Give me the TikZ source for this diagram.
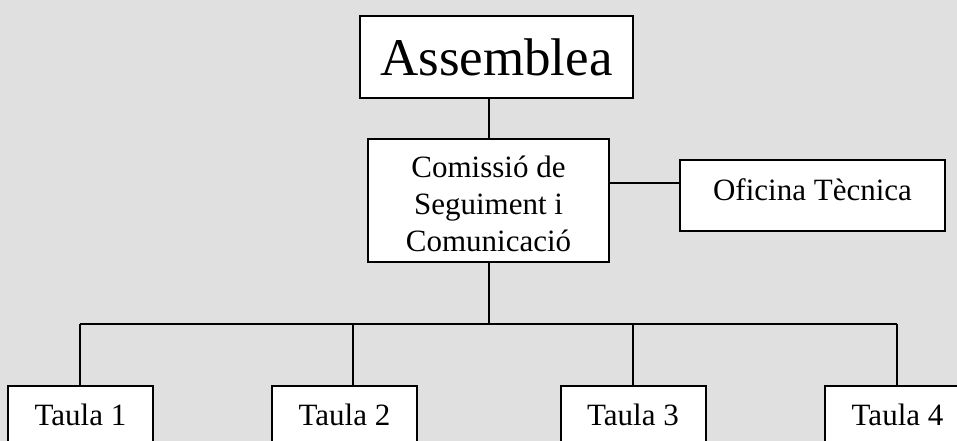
\documentclass[tikz,border=0pt]{standalone}
\usepackage{fontspec}
\setmainfont{Liberation Serif}
\definecolor{bggray}{RGB}{224,224,224}
\tikzset{
	box/.style={draw=black, fill=white, line width=2pt, inner sep=0pt, outer sep=0pt},
	link/.style={draw=black, line width=2pt},
	taula/.style={box, anchor=north, minimum width=145pt, text height=21pt, text depth=20pt, inner ysep=18pt, font=\fontsize{31}{37}\selectfont}
}

\begin{document}
\begin{tikzpicture}[x=1pt, y=-1pt]

	\fill[bggray] (0,0) rectangle (957,441);
	\clip (0,0) rectangle (957,441);

	% top levels
	\node[box, minimum width=273pt, minimum height=82pt, font=\fontsize{53}{60}\selectfont] (assemblea) at (496.5, 57) {Assemblea};
	\node[box, minimum width=241pt, minimum height=123pt, align=center, font=\fontsize{31}{37}\selectfont] (comissio) at (488.5, 200.5) {\rule{0pt}{29pt}Comissió de\\Seguiment i\\Comunicació};
	\node[box, minimum width=265pt, minimum height=71pt, text height=21pt, text depth=12pt, font=\fontsize{31}{37}\selectfont] (oficina) at (812.5, 195.5) {Oficina Tècnica};

	% taules
	\node[taula] (t1) at (80.5, 386) {Taula 1};
	\node[taula] (t2) at (344.5, 386) {Taula 2};
	\node[taula] (t3) at (633, 386) {Taula 3};
	\node[taula] (t4) at (897.5, 386) {Taula 4};

	\coordinate (s1) at (80, 324);
	\coordinate (s2) at (353, 324);
	\coordinate (s3) at (633, 324);
	\coordinate (s4) at (897, 324);
	\coordinate (ot) at ([yshift=12.5pt]oficina.west);

	% links
	\draw[link] (assemblea.south -| comissio.north) -- (comissio.north);
	\draw[link] (ot) -- (ot -| comissio.east);
	\draw[link] (comissio.south) -- (comissio.south |- s1);
	\draw[link] (s1) -- (s4);
	\foreach \i in {1,...,4}
		\draw[link] (s\i) -- (s\i |- t\i.north);

\end{tikzpicture}
\end{document}
